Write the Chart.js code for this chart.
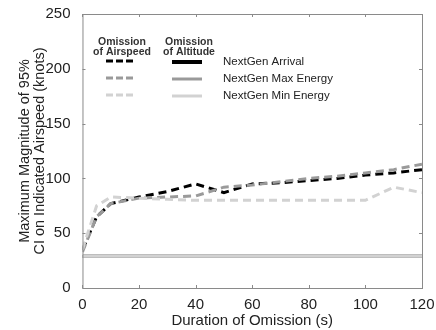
<!DOCTYPE html>
<html>
<head>
<meta charset="utf-8">
<script src="https://cdn.jsdelivr.net/npm/chart.js@4.4.0/dist/chart.umd.min.js"></script>
<style>
  html, body { margin: 0; padding: 0; background: #fff; }
  #wrap { width: 436px; height: 330px; }
</style>
</head>
<body>
<div id="wrap"><canvas id="graph"></canvas></div>
<script>
// duration of omission (s)
const durations = [0, 5, 10, 20, 30, 40, 50, 60, 70, 80, 90, 100, 110, 120]

// omission of airspeed (dashed)
const arrivalAirspeed = [35, 65, 77, 83, 88, 95, 87, 95, 96, 98, 100, 103, 105, 108]
const maxEnergyAirspeed = [33, 65, 77, 82, 83, 84, 92, 94, 97, 100, 102, 105, 108, 113]
const minEnergyAirspeed = [35, 75, 83, 82, 81, 80, 80, 80, 80, 80, 80, 80, 92, 87]

// omission of altitude (solid)
const arrivalAltitude = [29, 29, 29, 29, 29, 29, 29, 29, 29, 29, 29, 29, 29, 29]
const maxEnergyAltitude = [29, 29, 29, 29, 29, 29, 29, 29, 29, 29, 29, 29, 29, 29]
const minEnergyAltitude = [29, 29, 29, 29, 29, 29, 29, 29, 29, 29, 29, 29, 29, 29]

const xTicks = [0, 20, 40, 60, 80, 100, 120]
const yTicks = [0, 50, 100, 150, 200, 250]

const legendRows = ['NextGen Arrival', 'NextGen Max Energy', 'NextGen Min Energy']

const COLOURS = Object.freeze({
  ARRIVAL: '#000000',
  MAX: '#9a9a9a',
  MIN: '#d2d2d2',
})

const toPoints = ys => ys.map((y, i) => ({ x: durations[i], y: y }))

function makeSet(label, ys, colour, dashed, order) {
  return {
    label: label,
    data: toPoints(ys),
    borderColor: colour,
    backgroundColor: 'transparent',
    borderWidth: 3,
    borderDash: dashed ? [8, 5] : [],
    pointRadius: 0,
    tension: 0,
    order: order,
  }
}

// frame with inward ticks, plus the hand-drawn two column legend
const framePlugin = {
  id: 'frame',
  afterDraw(chart) {
    const c = chart.ctx
    const a = chart.chartArea
    const xs = chart.scales.x
    const ys = chart.scales.y
    c.save()
    c.strokeStyle = '#8a8a8a'
    c.lineWidth = 1
    c.setLineDash([])
    c.strokeRect(a.left + 0.5, a.top + 0.5, a.right - a.left, a.bottom - a.top)
    c.beginPath()
    xTicks.forEach(v => {
      const px = Math.round(xs.getPixelForValue(v)) + 0.5
      c.moveTo(px, a.bottom); c.lineTo(px, a.bottom - 3)
      c.moveTo(px, a.top); c.lineTo(px, a.top + 3)
    })
    yTicks.forEach(v => {
      const py = Math.round(ys.getPixelForValue(v)) + 0.5
      c.moveTo(a.left, py); c.lineTo(a.left + 3, py)
      c.moveTo(a.right, py); c.lineTo(a.right - 3, py)
    })
    c.stroke()

    // legend
    c.fillStyle = '#333'
    c.font = 'bold 10.5px "Liberation Sans", Arial, sans-serif'
    c.textAlign = 'center'
    c.textBaseline = 'middle'
    c.fillText('Omission', 122, 42)
    c.fillText('of Airspeed', 122, 52)
    c.fillText('Omission', 189, 42)
    c.fillText('of Altitude', 189, 52)

    const cols = [COLOURS.ARRIVAL, COLOURS.MAX, COLOURS.MIN]
    const rowY = [61, 78, 95]
    cols.forEach((col, i) => {
      c.strokeStyle = col
      c.lineWidth = 3
      c.setLineDash([7, 3])
      c.beginPath(); c.moveTo(106, rowY[i]); c.lineTo(134, rowY[i]); c.stroke()
      c.setLineDash([])
      c.lineWidth = i === 0 ? 4 : 3
      c.beginPath(); c.moveTo(172, rowY[i] + 1); c.lineTo(202, rowY[i] + 1); c.stroke()
    })
    c.fillStyle = '#222'
    c.font = '11.5px "Liberation Sans", Arial, sans-serif'
    c.textAlign = 'left'
    legendRows.forEach((t, i) => c.fillText(t, 223, rowY[i] + 1))
    c.restore()
  },
}

const ctx = document.getElementById('graph').getContext('2d')

let graph = new Chart(ctx, {
  type: 'line',
  data: {
    datasets: [
      makeSet('NextGen Arrival (altitude)', arrivalAltitude, COLOURS.ARRIVAL, false, 6),
      makeSet('NextGen Max Energy (altitude)', maxEnergyAltitude, COLOURS.MAX, false, 5),
      makeSet('NextGen Min Energy (altitude)', minEnergyAltitude, COLOURS.MIN, false, 4),
      makeSet('NextGen Arrival (airspeed)', arrivalAirspeed, COLOURS.ARRIVAL, true, 3),
      makeSet('NextGen Max Energy (airspeed)', maxEnergyAirspeed, COLOURS.MAX, true, 2),
      makeSet('NextGen Min Energy (airspeed)', minEnergyAirspeed, COLOURS.MIN, true, 1),
    ],
  },
  options: {
    responsive: true,
    maintainAspectRatio: false,
    animation: false,
    layout: { padding: { top: 14, right: 14, left: 17, bottom: 0 } },
    plugins: {
      legend: { display: false },
      tooltip: { enabled: false },
    },
    scales: {
      x: {
        type: 'linear',
        min: 0,
        max: 120,
        afterBuildTicks: s => { s.ticks = xTicks.map(v => ({ value: v })) },
        ticks: { color: '#222', font: { size: 15, family: '"Liberation Sans", Arial' }, padding: 0 },
        grid: { display: false },
        border: { display: false },
        title: {
          display: true,
          text: 'Duration of Omission (s)',
          color: '#222',
          font: { size: 15, family: '"Liberation Sans", Arial' },
          padding: { top: -2, bottom: 0 },
        },
      },
      y: {
        min: 0,
        max: 250,
        afterBuildTicks: s => { s.ticks = yTicks.map(v => ({ value: v })) },
        ticks: { color: '#222', font: { size: 15, family: '"Liberation Sans", Arial' }, padding: 4 },
        grid: { display: false },
        border: { display: false },
        title: {
          display: true,
          text: ['Maximum Magnitude of 95%', 'CI on Indicated Airspeed (knots)'],
          color: '#222',
          font: { size: 14.5, family: '"Liberation Sans", Arial', lineHeight: 1.05 },
          padding: { top: 0, bottom: -6 },
        },
      },
    },
  },
  plugins: [framePlugin],
})
</script>
</body>
</html>
